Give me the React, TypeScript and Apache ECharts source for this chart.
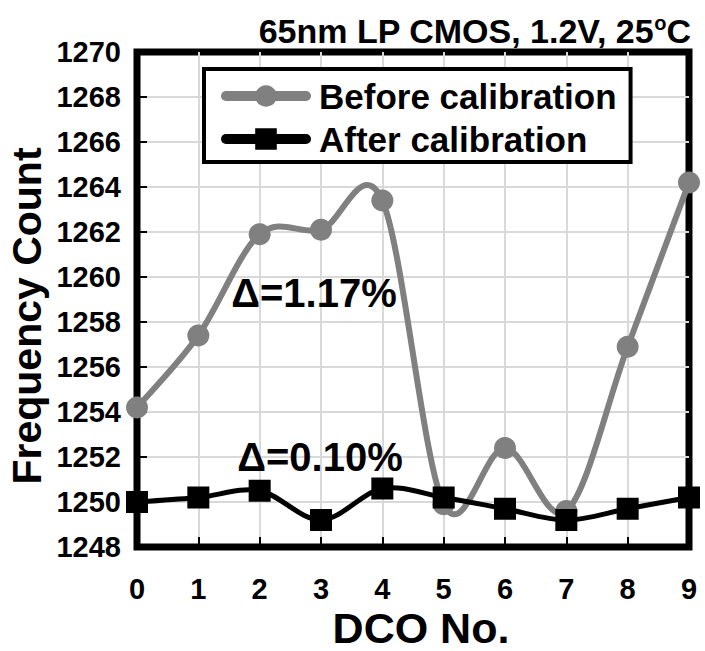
import React, { useEffect, useRef } from "react";
import * as echarts from "echarts";

const dcoNumbers = [0, 1, 2, 3, 4, 5, 6, 7, 8, 9];
const beforeCalibration = [1254.2, 1257.4, 1261.9, 1262.1, 1263.4, 1249.9, 1252.4, 1249.6, 1256.9, 1264.2];
const afterCalibration = [1250.0, 1250.2, 1250.5, 1249.2, 1250.6, 1250.2, 1249.7, 1249.2, 1249.7, 1250.2];
const seriesNames = ["Before calibration", "After calibration"];
const titleParts = ["65nm LP CMOS, 1.2V, 25", "o", "C"];
const annotations = ["Δ=1.17%", "Δ=0.10%"];
const xAxisName = "DCO No.";
const yAxisName = "Frequency Count";

const FONT = "'Liberation Sans', Arial, Helvetica, sans-serif";
const GRAY = "#808080";
const BLACK = "#000000";

// Catmull-Rom style smoothed segment (Excel-like), computed from the axis scales
function segmentRenderer(values: number[], color: string, width: number) {
  return (params: any, api: any) => {
    const i = params.dataIndex;
    if (i >= dcoNumbers.length - 1) return null;
    const pt = (k: number) => {
      const kk = Math.max(0, Math.min(dcoNumbers.length - 1, k));
      return api.coord([dcoNumbers[kk], values[kk]]);
    };
    const p0 = pt(i - 1);
    const p1 = pt(i);
    const p2 = pt(i + 1);
    const p3 = pt(i + 2);
    const c1x = p1[0] + (p2[0] - p0[0]) / 6;
    const c1y = p1[1] + (p2[1] - p0[1]) / 6;
    const c2x = p2[0] - (p3[0] - p1[0]) / 6;
    const c2y = p2[1] - (p3[1] - p1[1]) / 6;
    return {
      type: "path",
      shape: {
        pathData: `M${p1[0]},${p1[1]} C${c1x},${c1y} ${c2x},${c2y} ${p2[0]},${p2[1]}`,
      },
      style: { fill: "none", stroke: color, lineWidth: width, lineCap: "round", lineJoin: "round" },
    };
  };
}

export default function App() {
  const ref = useRef<HTMLDivElement | null>(null);

  useEffect(() => {
    if (!ref.current) return;
    const chart = echarts.init(ref.current, undefined, { renderer: "svg" });
    const toPairs = (vals: number[]) => dcoNumbers.map((x, i) => [x, vals[i]]);

    chart.setOption({
      animation: false,
      backgroundColor: "#fff",
      textStyle: { fontFamily: FONT },
      title: {
        text: `{a|${titleParts[0]}}{s|${titleParts[1]}}{a|${titleParts[2]}}`,
        right: 9,
        top: 8,
        textStyle: {
          rich: {
            a: { fontFamily: FONT, fontWeight: "bold", fontSize: 34, color: "#000", lineHeight: 36 },
            s: { fontFamily: FONT, fontWeight: "bold", fontSize: 20, color: "#000", lineHeight: 36, verticalAlign: "top", padding: [0, 0, 12, 0] },
          },
        },
      },
      grid: {
        left: 137,
        right: 16,
        top: 52,
        bottom: 104,
        show: true,
        borderColor: "#000",
        borderWidth: 7,
        backgroundColor: "transparent",
      },
      legend: {
        orient: "vertical",
        left: 204,
        top: 69,
        data: [
          { name: seriesNames[0], lineStyle: { color: GRAY, width: 10, opacity: 1, cap: "round" } },
          { name: seriesNames[1], lineStyle: { color: BLACK, width: 10, opacity: 1, cap: "round" } },
        ],
        itemWidth: 80,
        itemHeight: 27,
        itemGap: 7,
        padding: [9, 14, 5, 17],
        backgroundColor: "#fff",
        borderColor: "#000",
        borderWidth: 4,
        borderRadius: 0,
        textStyle: { fontFamily: FONT, fontWeight: "bold", fontSize: 35, color: "#000", lineHeight: 36, padding: [0, 0, 0, 8] },
      },
      xAxis: {
        type: "value",
        min: 0,
        max: 9,
        interval: 1,
        axisLine: { show: false },
        axisTick: { show: true, inside: true, length: 10, lineStyle: { color: "#000", width: 2 } },
        splitLine: { show: true, showMinLine: false, showMaxLine: false, lineStyle: { color: "#d9d9d9", width: 2 } },
        axisLabel: { margin: 27, fontFamily: FONT, fontWeight: "bold", fontSize: 29, color: "#000" },
      },
      yAxis: {
        type: "value",
        min: 1248,
        max: 1270,
        interval: 2,
        axisLine: { show: false },
        axisTick: { show: true, inside: true, length: 10, lineStyle: { color: "#000", width: 2 } },
        splitLine: { show: true, showMinLine: false, showMaxLine: false, lineStyle: { color: "#d9d9d9", width: 2 } },
        axisLabel: { margin: 16, fontFamily: FONT, fontWeight: "bold", fontSize: 29, color: "#000", formatter: (v: number) => String(v) },
      },
      graphic: [
        {
          type: "text",
          x: 27,
          y: 316,
          rotation: Math.PI / 2,
          style: { text: yAxisName, fontFamily: FONT, fontWeight: "bold", fontSize: 41, fill: "#000", align: "center", verticalAlign: "middle" },
        },
        {
          type: "text",
          x: 421,
          y: 628,
          style: { text: xAxisName, fontFamily: FONT, fontWeight: "bold", fontSize: 43, fill: "#000", align: "center", verticalAlign: "middle" },
        },
        {
          type: "text",
          x: 314,
          y: 293,
          z: 100,
          style: { text: annotations[0], fontFamily: FONT, fontWeight: "bold", fontSize: 40, fill: "#000", align: "center", verticalAlign: "middle" },
        },
        {
          type: "text",
          x: 320,
          y: 457,
          z: 100,
          style: { text: annotations[1], fontFamily: FONT, fontWeight: "bold", fontSize: 40, fill: "#000", align: "center", verticalAlign: "middle" },
        },
      ],
      series: [
        {
          name: seriesNames[0] + " curve",
          type: "custom",
          coordinateSystem: "cartesian2d",
          data: toPairs(beforeCalibration),
          encode: { x: 0, y: 1 },
          renderItem: segmentRenderer(beforeCalibration, GRAY, 6),
          clip: false,
          z: 1,
        },
        {
          name: seriesNames[0],
          type: "line",
          data: toPairs(beforeCalibration),
          symbol: "circle",
          symbolSize: 22,
          clip: false,
          lineStyle: { color: GRAY, width: 6, opacity: 0 },
          itemStyle: { color: GRAY },
          z: 2,
        },
        {
          name: seriesNames[1] + " curve",
          type: "custom",
          coordinateSystem: "cartesian2d",
          data: toPairs(afterCalibration),
          encode: { x: 0, y: 1 },
          renderItem: segmentRenderer(afterCalibration, BLACK, 5),
          clip: false,
          z: 3,
        },
        {
          name: seriesNames[1],
          type: "line",
          data: toPairs(afterCalibration),
          symbol: "rect",
          symbolSize: 22,
          clip: false,
          lineStyle: { color: BLACK, width: 5, opacity: 0 },
          itemStyle: { color: BLACK },
          z: 4,
        },
      ],
    });

    return () => chart.dispose();
  }, []);

  return <div ref={ref} style={{ width: 705, height: 651, position: "absolute", left: 0, top: 0 }} />;
}
